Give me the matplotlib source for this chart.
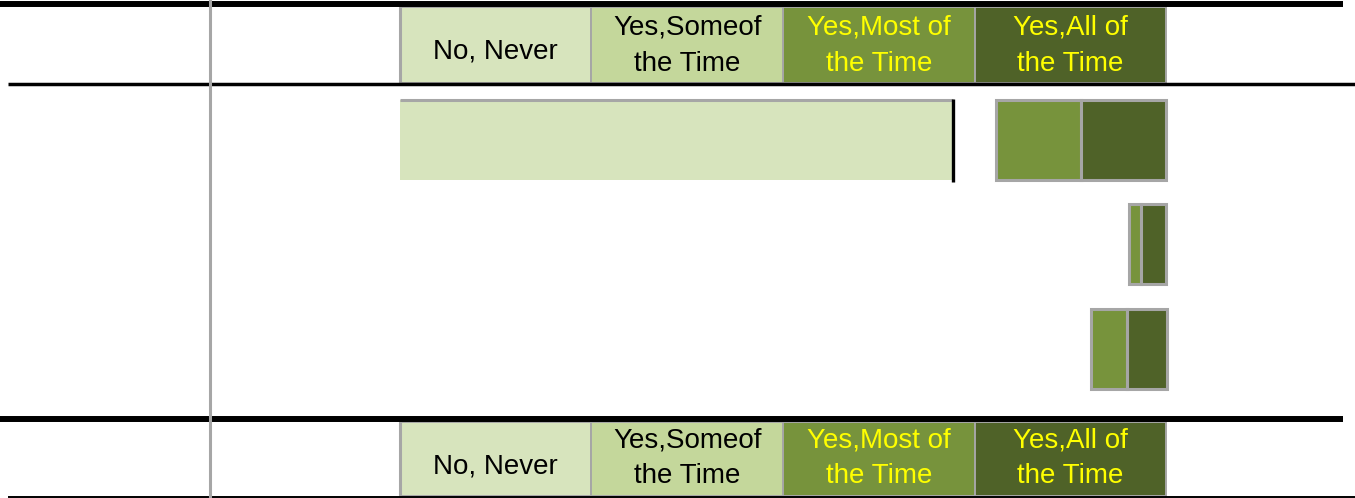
import matplotlib
matplotlib.use('agg')

from matplotlib import pyplot as plt

# header categories and colours
categories = ['No, Never', 'Yes,Someof\nthe Time', 'Yes,Most of\nthe Time', 'Yes,All of\nthe Time']
colors = ['#D7E4BD', '#C4D79B', '#77933C', '#4F6228']
text_colors = ['black', 'black', '#FFFF00', '#FFFF00']

# percent of responses per row
rows = [0, 1, 2]
never = [72.2, 0, 0]
some = [5.6, 0, 0]  # not drawn in the reference
most = [11.1, 1.6, 4.6]
all_time = [11.1, 3.3, 5.2]

GRAY = '#A6A6A6'
W, H = 1355, 498

# layout: pixel positions -> data units
X0, PX_PER_PCT = 399.5, 7.67
ROW0, ROW_STEP = 140.5, 104.0


def xd(px):
    return (px - X0) / PX_PER_PCT


def yd(px):
    return (px - ROW0) / ROW_STEP


plt.rcParams['font.family'] = ['Liberation Sans', 'DejaVu Sans']
fig = plt.figure(figsize=(W / 100, H / 100), dpi=100)
ax = fig.add_axes([0, 0, 1, 1])
ax.set_xlim(xd(0), xd(W))
ax.set_ylim(yd(H), yd(0))
ax.axis('off')

bar_h = 80 / ROW_STEP

# left part: "No, Never"
ax.barh(rows, never, left=0, height=bar_h, color=colors[0], linewidth=0)
for r, v in zip(rows, never):
    if v > 0:
        ax.plot([0, v], [r - bar_h / 2] * 2, color=GRAY, lw=2.2, solid_capstyle='butt')
        ax.plot([v, v], [r - bar_h / 2 - 0.015, r + bar_h / 2 + 0.015], color='black', lw=2.4,
                solid_capstyle='butt')

# right part: stacked, anchored at 100
left_all = [100 - a for a in all_time]
left_most = [100 - a - m for a, m in zip(all_time, most)]
ax.barh(rows, most, left=left_most, height=bar_h, color=colors[2], edgecolor=GRAY, linewidth=2.2)
ax.barh(rows, all_time, left=left_all, height=bar_h, color=colors[3], edgecolor=GRAY, linewidth=2.2)

# header / footer cells (last baseline of each label)
starts = [0, 25, 50, 75]
for top, bottom, base1, base2 in [(7, 83, 58.3, 71), (422, 496, 473, 483)]:
    ax.bar(starts, yd(bottom) - yd(top), bottom=yd(top), width=25, align='edge',
           color=colors, edgecolor=GRAY, linewidth=1.4)
    ax.plot([0, 0], [yd(top), yd(bottom)], color=GRAY, lw=2.2, solid_capstyle='butt')
    for s, label, tc in zip(starts, categories, text_colors):
        base = base2 if '\n' in label else base1
        ax.text(s + 12.5, yd(base), label, ha='center', va='baseline', ma='center',
                fontsize=20, color=tc, linespacing=1.5)

# rules
ax.axhline(yd(4), xmin=0, xmax=1343 / W, color='black', lw=4.3, solid_capstyle='butt')
ax.axhline(yd(84.3), xmin=8 / W, xmax=1, color='black', lw=2.5, solid_capstyle='butt')
ax.axhline(yd(418.7), xmin=0, xmax=1343 / W, color='black', lw=4.3, solid_capstyle='butt')
ax.axhline(yd(497), xmin=8 / W, xmax=1, color='black', lw=1.4, solid_capstyle='butt')
ax.axvline(xd(209.5), color=GRAY, lw=2.2, zorder=5)

fig.savefig('out.png', dpi=100)
